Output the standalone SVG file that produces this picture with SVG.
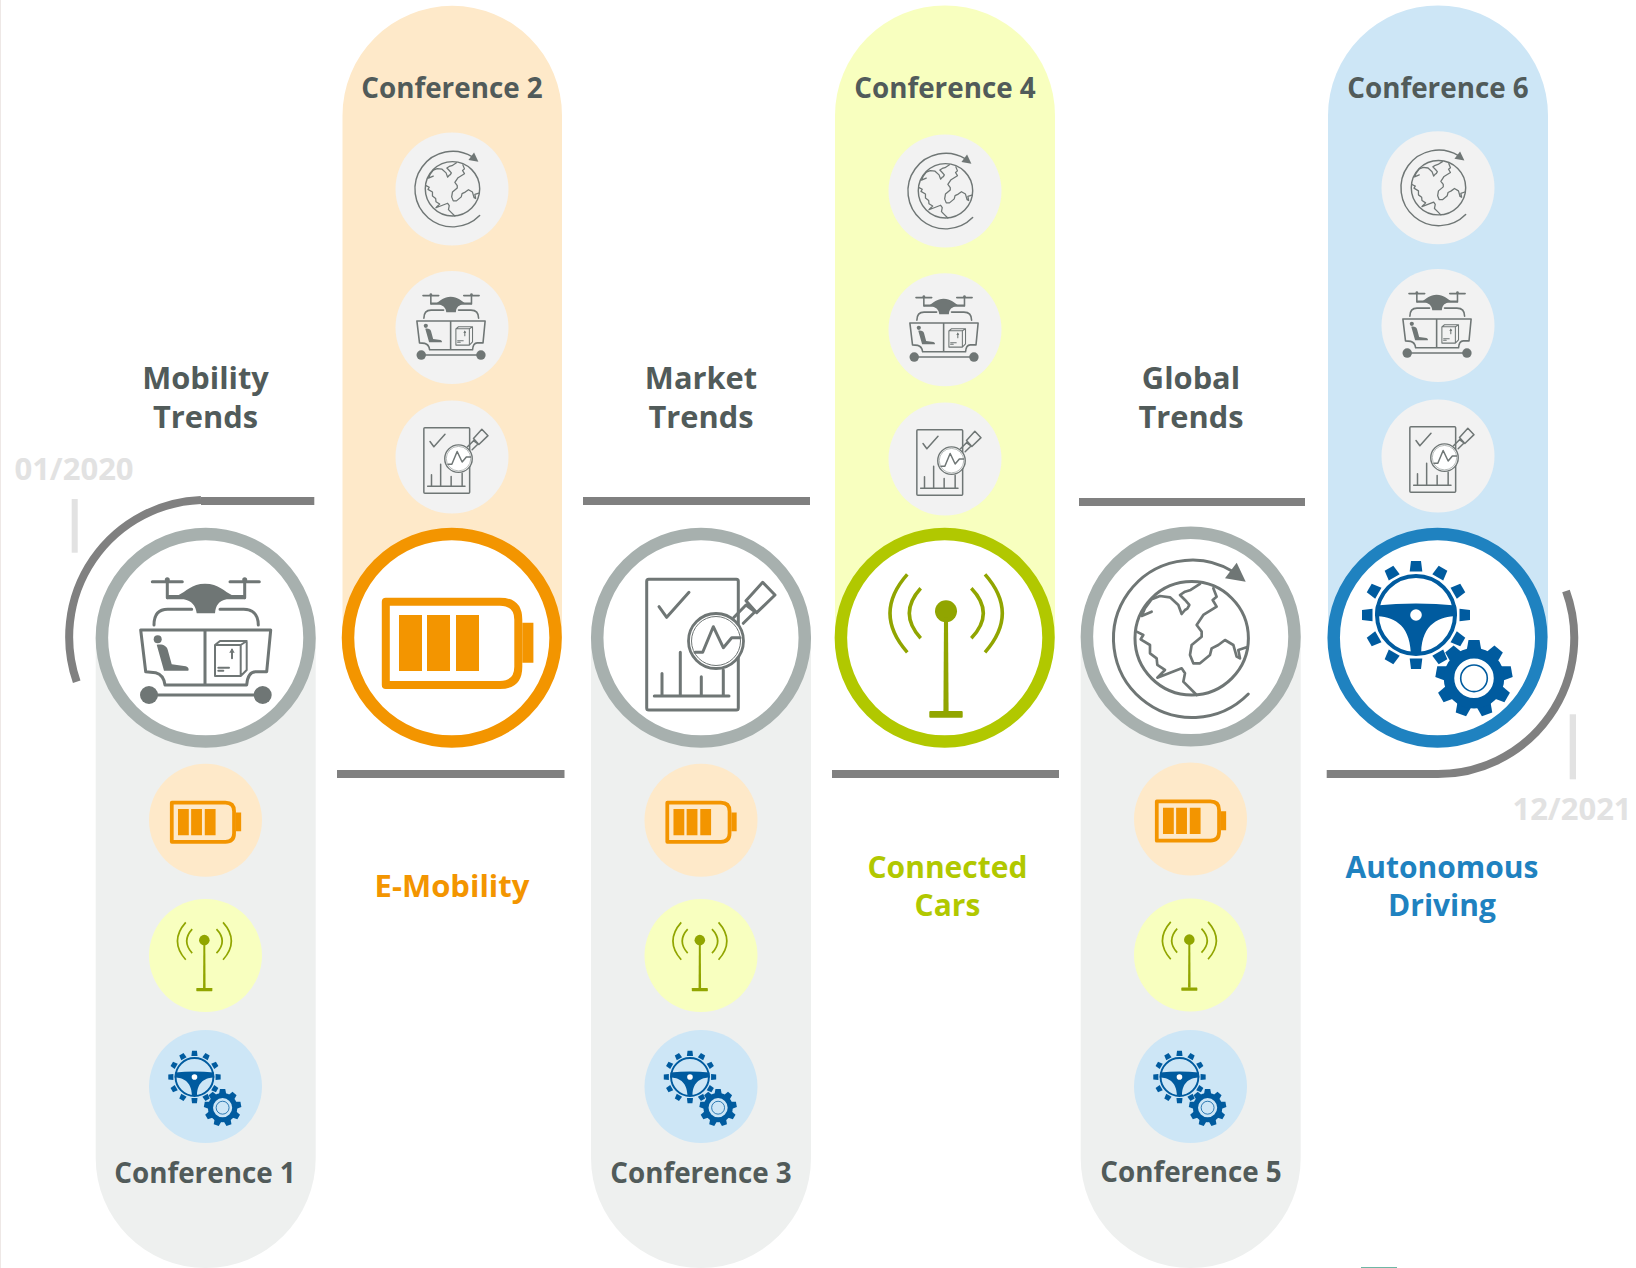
<svg xmlns="http://www.w3.org/2000/svg" xmlns:xlink="http://www.w3.org/1999/xlink" width="1636" height="1268" viewBox="0 0 1636 1268">
<style>
text{font-family:"Open Sans","Noto Sans","Liberation Sans",sans-serif;font-weight:700;text-anchor:middle}
.lbl{font-size:27.800px;fill:#515b5a}
.ttl{font-size:30.800px;fill:#515b5a}
.date{font-size:31px;fill:#e2e2e2}
.sub{font-size:30px}
.sub1{font-size:31px}
.ln{fill:none;stroke:#808080;stroke-width:8}
.gr{stroke:#6f7675;fill:none;stroke-width:3;stroke-linecap:round;stroke-linejoin:round}
.gf{fill:#6f7675}
.ring{fill:#fff;stroke-width:12.5}
</style>
<defs>
<g id="bat">
<path d="M-66,-36H48Q66.500,-36 66.500,-18V29Q66.500,47.300 48,47.300H-66Z" fill="none" stroke="#f39500" stroke-width="8" stroke-linejoin="round"/>
<path fill="#f39500" d="M70.500,-15H81.600V25H70.500ZM-52.800,-22.700H-29.800V33.300H-52.800ZM-24.800,-22.700H-1.800V33.300H-24.800ZM4.200,-22.700H27.200V33.300H4.200Z"/>
</g>
<g id="ant">
<circle cx="1.300" cy="-26.400" r="11" fill="#91a500"/>
<path d="M-0.700,-20H3.300L3.900,74H-1.300Z" fill="#91a500"/>
<rect x="-15.400" y="73.300" width="33.400" height="6.700" rx="1" fill="#91a500"/>
<path fill="none" stroke="#91a500" stroke-width="3.500" d="M-24,-49.400Q-46.800,-24.400 -24,0.600M-37.400,-63.400Q-72,-24.400 -37.400,14.600M26.600,-49.400Q50.600,-24.400 26.600,0.600M40.300,-63.400Q74.900,-24.400 40.300,14.600"/>
</g>
<path id="t1" d="M-6.300,-43.500L-5,-54H5L6.300,-43.500Z" fill="#005b9f"/>
<path id="t2" d="M-7.500,-27L-5.500,-38.300H5.500L7.500,-27Z" fill="#005b9f"/>
<g id="gear">
<g transform="translate(-21.500,-22.700)">
<use href="#t1"/><use href="#t1" transform="rotate(30)"/><use href="#t1" transform="rotate(60)"/><use href="#t1" transform="rotate(90)"/><use href="#t1" transform="rotate(120)"/><use href="#t1" transform="rotate(150)"/><use href="#t1" transform="rotate(180)"/><use href="#t1" transform="rotate(210)"/><use href="#t1" transform="rotate(240)"/><use href="#t1" transform="rotate(270)"/><use href="#t1" transform="rotate(300)"/><use href="#t1" transform="rotate(330)"/>
<circle r="39" fill="none" stroke="#005b9f" stroke-width="4"/>
<path fill="#005b9f" d="M-40,-9.500Q0,-13.500 40,-9.500L41,1C24,1.500 6,8 5.200,37.500L-5.200,37.500C-6.500,8 -24,1.500 -41,1Z"/>
<circle r="5.800" fill="#fff"/>
</g>
<g transform="translate(36.500,40.600)">
<use href="#t2"/><use href="#t2" transform="rotate(40)"/><use href="#t2" transform="rotate(80)"/><use href="#t2" transform="rotate(120)"/><use href="#t2" transform="rotate(160)"/><use href="#t2" transform="rotate(200)"/><use href="#t2" transform="rotate(240)"/><use href="#t2" transform="rotate(280)"/><use href="#t2" transform="rotate(320)"/>
<circle r="25" fill="none" stroke="#005b9f" stroke-width="10.500"/>
<circle r="13.300" fill="none" stroke="#005b9f" stroke-width="1.600"/>
</g>
</g>
<g id="drone">
<path class="gr" d="M-53.400,-56H-23.400M24.300,-56H53.600M-38.400,-56V-40M39,-56V-40"/>
<circle class="gf" cx="-38.400" cy="-58" r="2.500"/><circle class="gf" cx="39" cy="-58" r="2.500"/>
<path class="gf" d="M-38.400,-42.700H-27C-20,-46 -14,-54 -0.700,-54C13,-54 19,-46 26,-42.700H39V-38.400H21C13,-37 10,-32 9.300,-24.400H-9C-10,-32 -14,-37 -22,-38.400H-38.400Z"/>
<path class="gr" d="M-51.700,-12.700C-51.700,-24 -46,-28.400 -38,-28.400H-14M14.300,-28.400H38C46,-28.400 52.600,-24 52.600,-12.700"/>
<path class="gr" d="M-65,-7.700H65L61,34H50Q42,34 41,47.300H-40.700Q-42,37 -50,35L-60,34ZM-0.700,-7.700V47.300"/>
<circle class="gf" cx="-48" cy="1.600" r="4"/>
<path class="gf" d="M-49,7C-43,6 -39,8 -38,12L-34,26.500L-20,28.500Q-16,30 -17.400,33H-41.700Z"/>
<path class="gr" style="stroke-width:2" d="M9.300,7.300H35V38.300H9.300ZM9.300,7.300L14.300,3.300H41V32.300L35,38.300M35,7.300L41,3.300M12.600,30H23.300M12.600,33H17.600M26.300,20.600V12"/>
<path class="gf" d="M23.500,15L26.300,10.500L29,15Z"/>
<path class="gr" d="M-56.700,57.300H57"/>
<circle class="gf" cx="-56.700" cy="57.300" r="9"/><circle class="gf" cx="57" cy="57.300" r="9"/>
</g>
<g id="rep">
<rect class="gr" x="-54.300" y="-58.400" width="91.600" height="130.700" rx="2"/>
<path class="gr" d="M-42,-31L-34.300,-20.400L-12,-45.400M-46.700,58.300H28M-39,35.700V58.300M-20.700,14.600V58.300M0.300,39V58.300M22.300,32.300V58.300"/>
<path class="gr" fill="#fff" d="M33,-20.400L45,-32.700L54,-26L42.300,-14.400M61.700,-55.400L74,-42.700L55.700,-25L45,-37Z"/>
<circle cx="15" cy="3.300" r="27.500" fill="#fff" stroke="#6f7675" stroke-width="2.800"/>
<circle cx="15" cy="3.300" r="24.500" fill="none" stroke="#6f7675" stroke-width="1"/>
<path class="gr" d="M-6,14.600H1.700L12.300,-11L22.300,10L30.700,0H39"/>
</g>
<g id="globe">
<circle cx="1" cy="1.800" r="56.700" fill="none" stroke="#6f7675" stroke-width="3"/>
<path class="gr" d="M42.600,-64.800A78.700,78.700 0 1 0 57.600,57.500"/>
<path class="gf" d="M46,-73.800L55,-54.800L34.300,-58.200Z"/>
<path class="gr" style="stroke-width:8" transform="translate(-120.700,-126.500) scale(.3333)" d="M390,222L362,240L345,245L330,255L345,270L358,285L352,296L345,300L335,312L325,285L300,262L270,258L245,268L225,295L215,318L245,305M200,365L220,375L212,388L240,405L240,430L260,445L262,465L285,480L262,503L335,475L345,490L340,515L360,535L380,555M430,235L440,260L428,270L440,290L400,315L380,345L395,365L395,380L365,405L360,435L370,460L390,460L420,435L425,415L445,405L465,390L490,405L500,440L510,445L505,420L530,412"/>
</g>
</defs>
<rect width="1636" height="1268" fill="#fff"/>
<rect width="1" height="1268" fill="#eee8e6"/>
<rect x="1361" y="1267" width="36" height="1" fill="#6fb7a5"/>
<g id="conference-1">
<path d="M95.700,637.700H315.700V1158A110,110 0 0 1 95.700,1158Z" fill="#eef0ef"/>
<circle cx="205.700" cy="637.700" r="103.800" class="ring" stroke="#a7b0ae"/>
<use href="#drone" x="205.700" y="637.700"/>
<circle cx="205.500" cy="820.200" r="56.500" fill="#fee9c9"/><use href="#bat" transform="translate(202.800,819.600) scale(.47)"/>
<circle cx="205.500" cy="955.500" r="56.500" fill="#f8ffbf"/><use href="#ant" transform="translate(203.700,952.800) scale(.48)"/>
<circle cx="205.500" cy="1086.500" r="56.500" fill="#cde6f6"/><use href="#gear" transform="translate(204.900,1088) scale(.485)"/>
<text class="lbl" x="205" y="1183">Conference 1</text>
<text class="ttl" x="205.500" y="388.500">Mobility</text><text class="ttl" x="205.500" y="427.500">Trends</text>
</g>
<g id="conference-2">
<path d="M342.500,637.700V115.500A109.700,109.700 0 0 1 562,115.500V637.700Z" fill="#fee9c9"/>
<circle cx="452" cy="189" r="56.500" fill="#f2f2f2"/><use href="#globe" transform="translate(452,188) scale(.48)"/>
<circle cx="452" cy="327.600" r="56.500" fill="#f2f2f2"/><use href="#drone" transform="translate(451,325) scale(.525)"/>
<circle cx="452" cy="457" r="56.500" fill="#f2f2f2"/><use href="#rep" transform="translate(451,457) scale(.5)"/>
<circle cx="451.800" cy="637.700" r="103.800" class="ring" stroke="#f39500"/>
<use href="#bat" x="451.800" y="637.700"/>
<text class="lbl" x="452" y="98">Conference 2</text>
<text class="sub1" x="452" y="897" fill="#f39500">E-Mobility</text>
</g>
<g id="conference-3">
<path d="M591,637.700H811V1158A110,110 0 0 1 591,1158Z" fill="#eef0ef"/>
<circle cx="701" cy="637.700" r="103.800" class="ring" stroke="#a7b0ae"/>
<use href="#rep" x="701" y="637.700"/>
<circle cx="701" cy="820.200" r="56.500" fill="#fee9c9"/><use href="#bat" transform="translate(698.300,819.600) scale(.47)"/>
<circle cx="701" cy="955.500" r="56.500" fill="#f8ffbf"/><use href="#ant" transform="translate(699.200,952.800) scale(.48)"/>
<circle cx="701" cy="1086.500" r="56.500" fill="#cde6f6"/><use href="#gear" transform="translate(700.400,1088) scale(.485)"/>
<text class="lbl" x="701" y="1183">Conference 3</text>
<text class="ttl" x="701" y="388.500">Market</text><text class="ttl" x="701" y="427.500">Trends</text>
</g>
<g id="conference-4">
<path d="M835,637.700V115.500A110,110 0 0 1 1055,115.500V637.700Z" fill="#f8ffbf"/>
<circle cx="945" cy="191" r="56.500" fill="#f2f2f2"/><use href="#globe" transform="translate(945,190) scale(.48)"/>
<circle cx="945" cy="329.700" r="56.500" fill="#f2f2f2"/><use href="#drone" transform="translate(944,327) scale(.525)"/>
<circle cx="945" cy="459" r="56.500" fill="#f2f2f2"/><use href="#rep" transform="translate(944,459) scale(.5)"/>
<circle cx="944.700" cy="637.700" r="103.800" class="ring" stroke="#b1c800"/>
<use href="#ant" x="944.700" y="637.700"/>
<text class="lbl" x="945" y="98">Conference 4</text>
<text class="sub" x="947.500" y="878" fill="#b1c800">Connected</text><text class="sub" x="947.500" y="916" fill="#b1c800">Cars</text>
</g>
<g id="conference-5">
<path d="M1080.700,636.500H1300.700V1158A110,110 0 0 1 1080.700,1158Z" fill="#eef0ef"/>
<circle cx="1190.700" cy="636.500" r="103.800" class="ring" stroke="#a7b0ae"/>
<use href="#globe" x="1190.700" y="636.500"/>
<circle cx="1190.500" cy="819" r="56.500" fill="#fee9c9"/><use href="#bat" transform="translate(1187.800,818.400) scale(.47)"/>
<circle cx="1190.500" cy="955" r="56.500" fill="#f8ffbf"/><use href="#ant" transform="translate(1188.700,952.300) scale(.48)"/>
<circle cx="1190.500" cy="1086.500" r="56.500" fill="#cde6f6"/><use href="#gear" transform="translate(1189.900,1088) scale(.485)"/>
<text class="lbl" x="1191" y="1182">Conference 5</text>
<text class="ttl" x="1191" y="388.500">Global</text><text class="ttl" x="1191" y="427.500">Trends</text>
</g>
<g id="conference-6">
<path d="M1328,637.700V115.500A110,110 0 0 1 1548,115.500V637.700Z" fill="#cde6f6"/>
<circle cx="1438" cy="187.800" r="56.500" fill="#f2f2f2"/><use href="#globe" transform="translate(1438,186.800) scale(.48)"/>
<circle cx="1438" cy="325.500" r="56.500" fill="#f2f2f2"/><use href="#drone" transform="translate(1437,323) scale(.525)"/>
<circle cx="1438" cy="456" r="56.500" fill="#f2f2f2"/><use href="#rep" transform="translate(1437,456) scale(.5)"/>
<circle cx="1437.500" cy="637.700" r="103.800" class="ring" stroke="#1f82c0"/>
<use href="#gear" x="1437.500" y="637.700"/>
<text class="lbl" x="1438" y="98">Conference 6</text>
<text class="sub" x="1442" y="878" fill="#1f82c0">Autonomous</text><text class="sub" x="1442" y="916" fill="#1f82c0">Driving</text>
</g>
<g id="connectors">
<path class="ln" d="M76.700,681.700A137,137 0 0 1 201,500"/>
<path class="ln" d="M201,501H314.300"/>
<path class="ln" d="M583,501H810"/>
<path class="ln" d="M1079,502H1305"/>
<path class="ln" d="M337,774H564.500"/>
<path class="ln" d="M832,774H1059"/>
<path class="ln" d="M1326.700,774H1437.500A136.300,136.300 0 0 0 1566,591"/>
</g>
<g id="timeline">
<rect x="71.700" y="499" width="6" height="53.700" fill="#e2e2e2"/>
<rect x="1569.700" y="714.300" width="6.300" height="65" fill="#e2e2e2"/>
<text class="date" x="74" y="480">01/2020</text>
<text class="date" x="1572" y="820">12/2021</text>
</g>
</svg>
